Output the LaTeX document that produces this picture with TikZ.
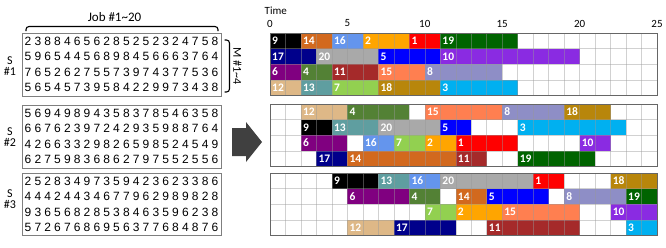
\documentclass[tikz,border=0pt]{standalone}
\usepackage{fontspec}
\setmainfont{Carlito}
\newfontfamily\digitfont{Liberation Sans}

\definecolor{job1}{HTML}{FF0000}
\definecolor{job2}{HTML}{FFA500}
\definecolor{job3}{HTML}{00B0F0}
\definecolor{job4}{HTML}{538135}
\definecolor{job5}{HTML}{0000FF}
\definecolor{job6}{HTML}{800080}
\definecolor{job7}{HTML}{92D050}
\definecolor{job8}{HTML}{8E8EC6}
\definecolor{job9}{HTML}{000000}
\definecolor{job10}{HTML}{8A2BE2}
\definecolor{job11}{HTML}{A52A2A}
\definecolor{job12}{HTML}{DEB887}
\definecolor{job13}{HTML}{5F9EA0}
\definecolor{job14}{HTML}{D2691E}
\definecolor{job15}{HTML}{FF7F50}
\definecolor{job16}{HTML}{6495ED}
\definecolor{job17}{HTML}{00008B}
\definecolor{job18}{HTML}{B8860B}
\definecolor{job19}{HTML}{006400}
\definecolor{job20}{HTML}{A9A9A9}
\definecolor{framegray}{HTML}{7F7F7F}
\definecolor{arrowgray}{HTML}{404040}

% one digit per fixed-width cell
\def\dgtsloop#1{\ifx#1\relax\else\makebox[9.84pt]{#1}\expandafter\dgtsloop\fi}
\newcommand{\digitrow}[1]{\expandafter\dgtsloop#1\relax}

\tikzset{
  digits/.style={inner sep=0pt, font=\digitfont\fontsize{12}{12}\selectfont},
  matbox/.style={draw=framegray, line width=0.9pt},
  slabel/.style={align=center, inner sep=0pt, font=\fontsize{12}{11}\selectfont},
  joblabel/.style={anchor=west, inner sep=2pt, text=white, font=\bfseries\fontsize{11.5}{11.5}\selectfont},
  gridline/.style={draw=black!40, opacity=0.45, line width=0.5pt},
  ganttframe/.style={draw=black!60, line width=0.9pt},
  axisnum/.style={inner sep=0pt, font=\fontsize{11}{11}\selectfont}
}

\begin{document}
\begin{tikzpicture}[x=1pt,y=-1pt]
\useasboundingbox (0,0) rectangle (666,247);

% processing time matrices
\node[inner sep=0pt, font=\fontsize{13}{13}\selectfont] (joblbl) at (114.5,17) {Job \#1\textasciitilde20};
\draw[line width=1.1pt, rounded corners=3pt] (26,31) -- (26,26.5) -- (218,26.5) -- (218,31);
\draw[line width=1.1pt, rounded corners=3pt] (224.5,40) -- (229.5,40) -- (229.5,92) -- (224.5,92);
\node[inner sep=0pt, rotate=-90, font=\fontsize{12}{12}\selectfont] (mlbl) at (237.5,66) {M \#1\textasciitilde4};

\draw[matbox] (22,33) rectangle (221,96.5);
\draw[matbox] (22,105) rectangle (221,168);
\draw[matbox] (22,173) rectangle (221,235.5);
\node[slabel] (s1lbl) at (10,66) {S\\\#1};
\node[slabel] (s2lbl) at (10,137) {S\\\#2};
\node[slabel] (s3lbl) at (10,199) {S\\\#3};

\foreach \r/\dg in {0/23884656285252324758, 1/59654456898456663764, 2/76526275573974377536, 3/56545739584229973438}
  \node[digits] (m1r\r) at (121.5,41.5+15.2*\r) {\digitrow{\dg}};
\foreach \r/\dg in {0/56949894358378546358, 1/66762397242935988764, 2/42663329826598524549, 3/62759836862797552556}
  \node[digits] (m2r\r) at (121.5,113.5+15.2*\r) {\digitrow{\dg}};
\foreach \r/\dg in {0/25283497359423623386, 1/44424434677962989828, 2/93656828538463596238, 3/57267686956377684876}
  \node[digits] (m3r\r) at (121.5,181.5+15.2*\r) {\digitrow{\dg}};

% arrow
\fill[arrowgray] (232,128) -- (246,128) -- (246,122) -- (262,142) -- (246,162) -- (246,156) -- (232,156) -- cycle;

% time axis
\node[anchor=west, inner sep=0pt, font=\fontsize{11}{11}\selectfont] (timelbl) at (264.5,10.5) {Time};
\foreach \t in {0,5,...,25}
  \node[axisnum] (t\t) at (270+15.48*\t,23.5) {\t};

% schedules
\foreach \r/\a/\b/\j in {0/0/2/9, 0/2/4/14, 0/4/6/16, 0/6/9/2, 0/9/11/1, 0/11/16/19,
    1/0/3/17, 1/3/7/20, 1/7/11/5, 1/11/20/10,
    2/0/2/6, 2/2/4/4, 2/4/7/11, 2/7/10/15, 2/10/15/8,
    3/0/2/12, 3/2/4/13, 3/4/7/7, 3/7/11/18, 3/11/16/3} {
  \fill[job\j] (270+15.48*\a,33+15.6*\r) rectangle (270+15.48*\b,48.6+15.6*\r);
  \node[joblabel] (s1j\j) at (270+15.48*\a,40.8+15.6*\r) {\j};
}
\foreach \r/\a/\b/\j in {0/2/5/12, 0/5/9/4, 0/10/15/15, 0/15/19/8, 0/19/22/18,
    1/2/4/9, 1/4/7/13, 1/7/11/20, 1/11/13/5, 1/16/23/3,
    2/2/5/6, 2/6/8/16, 2/8/10/7, 2/10/12/2, 2/12/16/1, 2/20/22/10,
    3/3/5/17, 3/5/12/14, 3/12/14/11, 3/16/21/19} {
  \fill[job\j] (270+15.48*\a,104+15.6*\r) rectangle (270+15.48*\b,119.6+15.6*\r);
  \node[joblabel] (s2j\j) at (270+15.48*\a,111.8+15.6*\r) {\j};
}
\foreach \r/\a/\b/\j in {0/4/7/9, 0/7/9/13, 0/9/11/16, 0/11/17/20, 0/17/19/1, 0/22/25/18,
    1/5/9/6, 1/9/11/4, 1/12/14/14, 1/14/18/5, 1/19/23/8, 1/23/25/19,
    2/10/12/7, 2/12/15/2, 2/15/20/15, 2/22/25/10,
    3/5/8/12, 3/8/12/17, 3/14/20/11, 3/23/25/3} {
  \fill[job\j] (270+15.48*\a,173+15.6*\r) rectangle (270+15.48*\b,188.6+15.6*\r);
  \node[joblabel] (s3j\j) at (270+15.48*\a,180.8+15.6*\r) {\j};
}

\foreach \top in {33,104,173} {
  \foreach \k in {1,...,24}
    \draw[gridline] (270+15.48*\k,\top) -- ++(0,62.4);
  \foreach \k in {1,2,3}
    \draw[gridline] (270,\top+15.6*\k) -- ++(387,0);
  \draw[ganttframe] (270,\top) rectangle (657,\top+62.4);
}
\end{tikzpicture}
\end{document}
